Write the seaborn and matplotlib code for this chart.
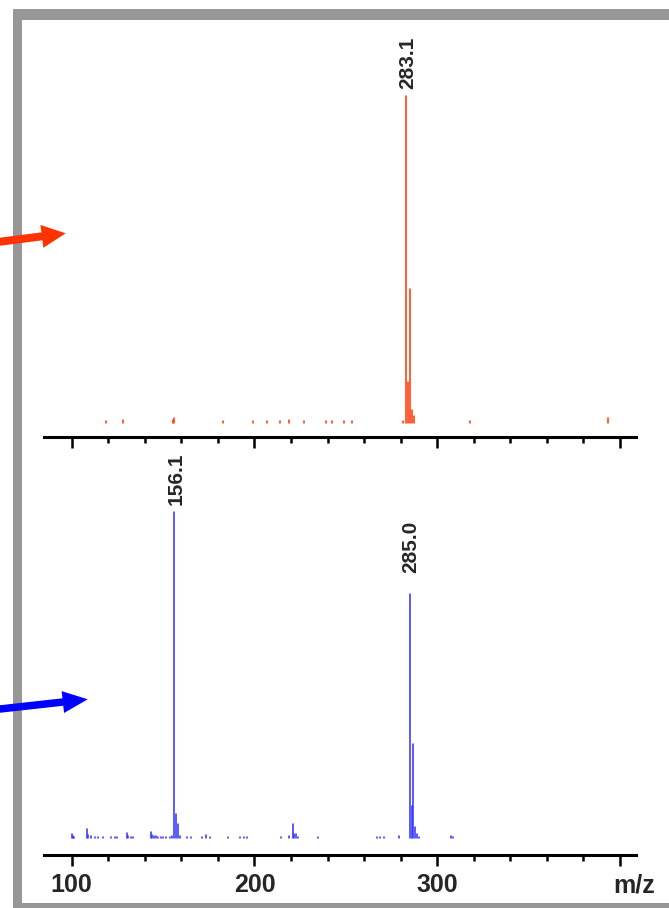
import numpy as np
import pandas as pd
import matplotlib
matplotlib.use("Agg")
import matplotlib.pyplot as plt
import seaborn as sns
from matplotlib.patches import Rectangle, FancyArrow
from matplotlib.transforms import IdentityTransform

# ---- spectrum data (m/z, relative intensity %) ----
mz_top = [118.8, 127.9, 155.4, 155.8, 182.9, 199.4, 206.7, 214.0, 219.1,
          227.3, 239.0, 242.3, 249.0, 253.5, 281.1, 283.1, 284.1, 285.1,
          286.1, 287.1, 317.9, 393.6]
int_top = [0.5, 0.9, 0.8, 1.3, 0.4, 0.4, 0.5, 0.4, 0.9,
           0.4, 0.4, 0.4, 0.4, 0.4, 0.6, 100.0, 12.5, 41.0,
           4.0, 2.0, 0.5, 1.5]

mz_bot = [100.0, 100.6, 101.4, 108.2, 109.1, 110.4, 112.7, 114.6, 117.0,
          121.3, 123.7, 124.6, 130.1, 131.0, 132.3, 133.7, 143.2, 144.1,
          145.0, 146.1, 147.4, 148.9, 150.1, 151.6, 153.8, 155.0, 156.1,
          157.1, 158.1, 159.3, 162.9, 165.1, 171.1, 173.3, 175.7, 185.7,
          192.1, 194.3, 195.7, 214.4, 219.0, 221.0, 221.7, 222.7, 223.6,
          234.9, 266.9, 268.7, 271.0, 279.2, 285.0, 286.0, 287.0, 288.0,
          289.0, 290.2, 307.4, 308.5]
int_bot = [1.2, 0.6, 0.4, 3.0, 1.0, 0.6, 0.4, 0.4, 0.4,
           0.4, 0.4, 0.5, 1.5, 0.8, 0.5, 0.4, 2.0, 1.0,
           0.8, 0.6, 0.5, 0.4, 0.4, 0.4, 0.5, 0.8, 100.0,
           7.4, 4.5, 0.8, 0.4, 0.4, 0.4, 1.0, 0.4, 0.4,
           0.4, 0.4, 0.4, 0.4, 0.6, 4.3, 1.2, 1.3, 0.5,
           0.5, 0.5, 0.4, 0.4, 0.6, 75.0, 9.8, 28.8, 3.4,
           1.2, 0.4, 0.6, 0.4]

labels_top = ["283.1"]
labels_bot = ["156.1", "285.0"]

tick_major = [100, 200, 300, 400]
tick_labels = ["100", "200", "300", ""]
axis_title = "m/z"

RED = "#FF3300"
BLUE = "#0000FF"
BLUE_LINE = "#2E2EFF"
GRAY = "#979797"

sns.set_theme(style="white")
plt.rcParams["font.family"] = ["Liberation Sans", "DejaVu Sans"]
plt.rcParams["font.weight"] = "bold"

W, H, DPI = 669, 908, 100
fig = plt.figure(figsize=(W / DPI, H / DPI), dpi=DPI)
fig.patch.set_facecolor("white")


def stems(mz, inten):
    """Long-form table: each peak is a two-point vertical segment."""
    rows = []
    for i, (m, h) in enumerate(zip(mz, inten)):
        rows.append((i, m, 0.0))
        rows.append((i, m, h))
    return pd.DataFrame(rows, columns=["peak", "mz", "intensity"])


def style_axis(ax, ylim, show_labels):
    ax.set_xlim(84.84, 408.75)
    ax.set_ylim(*ylim)
    for s in ("left", "right", "top"):
        ax.spines[s].set_visible(False)
    ax.spines["bottom"].set_linewidth(2.2)
    ax.spines["bottom"].set_color("black")
    ax.set_yticks([])
    ax.set_xticks(tick_major)
    ax.set_xticks(np.arange(120, 400, 20), minor=True)
    ax.tick_params(axis="x", which="major", direction="out", length=8,
                   width=1.8, color="black", bottom=True, pad=5,
                   labelsize=18)
    ax.tick_params(axis="x", which="minor", direction="out", length=4.3,
                   width=1.8, color="black", bottom=True)
    if show_labels:
        ax.set_xticklabels(tick_labels, fontweight="bold")
    else:
        ax.set_xticklabels([])
    ax.set_xlabel("")
    ax.set_ylabel("")
    ax.patch.set_alpha(0)


# top spectrum
ax1 = fig.add_axes([44 / W, (H - 437) / H, 592 / W, 412 / H])
sns.lineplot(data=stems(mz_top, int_top), x="mz", y="intensity",
             units="peak", estimator=None, sort=False, color=RED,
             lw=1.1, ax=ax1, legend=False)
style_axis(ax1, (-4.377, 121.73), False)
for lab in labels_top:
    v = float(lab)
    h = int_top[mz_top.index(v)]
    ax1.annotate(lab, xy=(v, h), xytext=(1, 5), textcoords="offset points",
                 rotation=90, ha="center", va="bottom", fontsize=15,
                 fontweight="bold")

# bottom spectrum
ax2 = fig.add_axes([44 / W, (H - 855) / H, 592 / W, 405 / H])
sns.lineplot(data=stems(mz_bot, int_bot), x="mz", y="intensity",
             units="peak", estimator=None, sort=False, color=BLUE_LINE,
             lw=1.1, ax=ax2, legend=False)
style_axis(ax2, (-5.118, 119.0), True)
label_gap = {"156.1": 5, "285.0": 14.5}
for lab in labels_bot:
    v = float(lab)
    h = int_bot[mz_bot.index(v)]
    ax2.annotate(lab, xy=(v, h), xytext=(1, label_gap[lab]),
                 textcoords="offset points", rotation=90, ha="center",
                 va="bottom", fontsize=15, fontweight="bold")
ax2.annotate(axis_title, xy=(407.7, 0), xycoords=("data", "axes fraction"),
             xytext=(0, -13), textcoords="offset points", ha="center",
             va="top", fontsize=18, fontweight="bold")

# gray frame (left, top, bottom edges) in pixel coordinates
ident = IdentityTransform()
for (x0, y0, w, h) in [(13, 0, 9, H - 9), (13, H - 20, W - 13, 11),
                       (13, 0, W - 13, 5)]:
    fig.add_artist(Rectangle((x0, y0), w, h, transform=ident,
                             facecolor=GRAY, edgecolor="none", zorder=5))

# pointer arrows
fig.add_artist(FancyArrow(-10, H - 243.0, 75.7, 9.7, width=8,
                          head_width=23, head_length=24,
                          length_includes_head=True, transform=ident,
                          facecolor=RED, edgecolor="none", zorder=6))
fig.add_artist(FancyArrow(-10, H - 710.1, 97.7, 10.8, width=7.5,
                          head_width=22, head_length=25,
                          length_includes_head=True, transform=ident,
                          facecolor=BLUE, edgecolor="none", zorder=6))

fig.savefig("out.png", dpi=DPI)
